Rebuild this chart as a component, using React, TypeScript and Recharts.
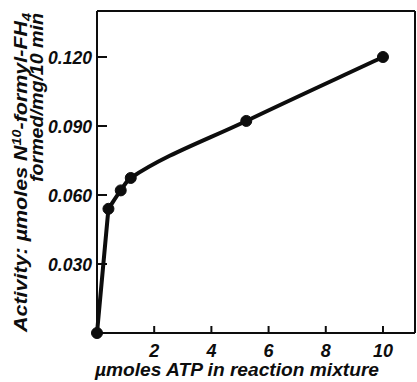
import React from 'react';
import { LineChart, Line, XAxis, YAxis, ReferenceLine } from 'recharts';

// ATP concentration (µmoles in reaction mixture)
const atpAmounts = [0, 0.4, 0.83, 1.18, 5.22, 10];
// Activity: µmoles N10-formyl-FH4 formed / mg / 10 min
const activity = [0, 0.054, 0.062, 0.0674, 0.0922, 0.12];

const xTicks = [2, 4, 6, 8, 10];
const yTicks = [0.03, 0.06, 0.09, 0.12];
const xMax = 11.12;
const yMax = 0.14;

const data = atpAmounts.map((atp, i) => ({ atp, activity: activity[i] }));

const INK = '#0d0d0d';
const FONT = '"Liberation Sans", Arial, sans-serif';

// Hand-drawn style curve: straight rise off the origin, then a smooth spline
// whose tangent at each point blends the Catmull-Rom direction with the
// bisector of the neighbouring chords.
const curveHand = (context: any) => {
  let pts: number[][] = [];
  const unit = (a: number[], b: number[]) => {
    const dx = b[0] - a[0];
    const dy = b[1] - a[1];
    const l = Math.hypot(dx, dy) || 1;
    return [dx / l, dy / l];
  };
  const tangent = (i: number) => {
    const n = pts.length;
    if (i <= 1 || i >= n - 1) {
      const a = pts[Math.max(i - 1, 1)];
      const b = pts[Math.min(i + 1, n - 1)];
      return unit(i <= 1 ? pts[i] : a, i <= 1 ? b : pts[i]);
    }
    const u1 = unit(pts[i - 1], pts[i]);
    const u2 = unit(pts[i], pts[i + 1]);
    const cr = unit(pts[i - 1], pts[i + 1]);
    const bis = unit([0, 0], [u1[0] + u2[0], u1[1] + u2[1]]);
    return unit([0, 0], [cr[0] + bis[0], cr[1] + bis[1]]);
  };
  return {
    areaStart() {},
    areaEnd() {},
    lineStart() {
      pts = [];
    },
    point(x: number, y: number) {
      pts.push([+x, +y]);
    },
    lineEnd() {
      const n = pts.length;
      if (!n) return;
      context.moveTo(pts[0][0], pts[0][1]);
      for (let i = 0; i < n - 1; i++) {
        const p1 = pts[i];
        const p2 = pts[i + 1];
        if (i === 0) {
          context.lineTo(p2[0], p2[1]);
          continue;
        }
        const len = Math.hypot(p2[0] - p1[0], p2[1] - p1[1]) / 3;
        const t1 = tangent(i);
        const t2 = tangent(i + 1);
        context.bezierCurveTo(
          p1[0] + t1[0] * len,
          p1[1] + t1[1] * len,
          p2[0] - t2[0] * len,
          p2[1] - t2[1] * len,
          p2[0],
          p2[1]
        );
      }
    },
  };
};

const XTick = (props: any) => {
  const { x, y, payload } = props;
  return (
    <g>
      <line x1={x} y1={y} x2={x} y2={y - 7} stroke={INK} strokeWidth={2} />
      <text
        x={x}
        y={y + 24}
        textAnchor="middle"
        fontFamily={FONT}
        fontSize={18}
        fontWeight="bold"
        fontStyle="italic"
        fill={INK}
      >
        {payload.value}
      </text>
    </g>
  );
};

const YTick = (props: any) => {
  const { x, y, payload } = props;
  return (
    <g>
      <line x1={x} y1={y} x2={x + 10} y2={y} stroke={INK} strokeWidth={2} />
      <text
        x={x - 5}
        y={y + 7}
        textAnchor="end"
        fontFamily={FONT}
        fontSize={18}
        fontWeight="bold"
        fontStyle="italic"
        fill={INK}
        textLength={44}
        lengthAdjust="spacingAndGlyphs"
      >
        {Number(payload.value).toFixed(3)}
      </text>
    </g>
  );
};

const YLabel = () => (
  <g fontFamily={FONT} fontWeight="bold" fontStyle="italic" fill={INK}>
    <text
      transform="translate(27,13) rotate(-90)"
      textAnchor="end"
      fontSize={18}
      textLength={319}
      lengthAdjust="spacingAndGlyphs"
    >
      Activity: µmoles N
      <tspan fontSize={12} dy={-6}>10</tspan>
      <tspan dy={6}>-formyl-FH</tspan>
      <tspan fontSize={12} dy={4}>4</tspan>
    </text>
    <text
      transform="translate(43,13) rotate(-90)"
      textAnchor="end"
      fontSize={18}
      textLength={169}
      lengthAdjust="spacingAndGlyphs"
    >
      formed/mg/10 min
    </text>
  </g>
);

const XLabel = (props: any) => {
  const vb = props.viewBox || { x: 97, y: 333, width: 318, height: 49 };
  return (
    <text
      x={vb.x + 140}
      y={vb.y + 43}
      textAnchor="middle"
      fontFamily={FONT}
      fontSize={18}
      fontWeight="bold"
      fontStyle="italic"
      fill={INK}
      textLength={284}
      lengthAdjust="spacingAndGlyphs"
    >
      µmoles ATP in reaction mixture
    </text>
  );
};

export default function App() {
  return (
    <div style={{ position: 'absolute', left: 0, top: 0, background: '#fff' }}>
      <LineChart
        width={417}
        height={382}
        data={data}
        margin={{ top: 11, right: 2, bottom: 0, left: 0 }}
      >
        <XAxis
          dataKey="atp"
          type="number"
          domain={[0, xMax]}
          ticks={xTicks}
          tickSize={0}
          tickMargin={0}
          tickLine={false}
          tick={<XTick />}
          axisLine={{ stroke: INK, strokeWidth: 2 }}
          height={49}
          label={<XLabel />}
        />
        <YAxis
          type="number"
          domain={[0, yMax]}
          ticks={yTicks}
          tickSize={0}
          tickMargin={0}
          tickLine={false}
          tick={<YTick />}
          axisLine={{ stroke: INK, strokeWidth: 2 }}
          width={97}
          label={<YLabel />}
        />
        <ReferenceLine y={yMax} stroke={INK} strokeWidth={2} />
        <ReferenceLine x={xMax} stroke={INK} strokeWidth={2} />
        <Line
          type={curveHand as any}
          dataKey="activity"
          stroke={INK}
          strokeWidth={4}
          dot={{ r: 5.5, fill: INK, stroke: INK, strokeWidth: 1 }}
          isAnimationActive={false}
        />
      </LineChart>
    </div>
  );
}
